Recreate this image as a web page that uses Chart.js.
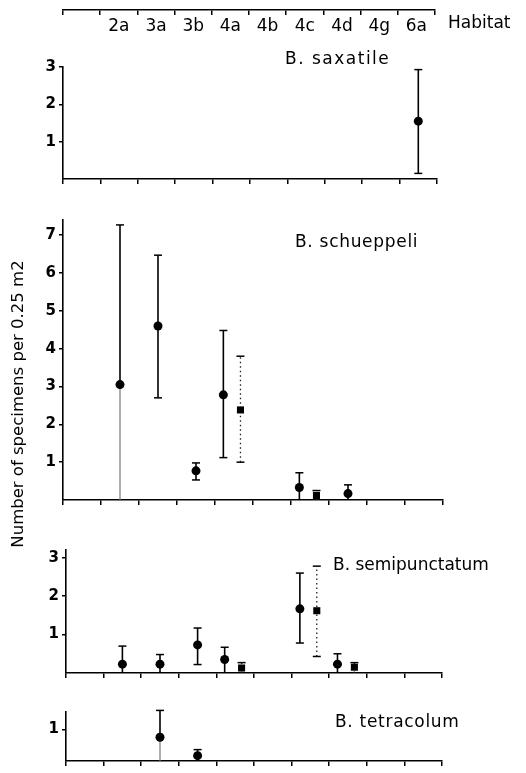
<!DOCTYPE html>
<html>
<head>
<meta charset="utf-8">
<script src="https://cdn.jsdelivr.net/npm/chart.js@4.4.1/dist/chart.umd.min.js"></script>
<style>
  body { margin: 0; background: #fff; }
  #wrap { position: relative; width: 526px; height: 773px; overflow: hidden; font-family: "DejaVu Sans", sans-serif; color: #000; }
  canvas { position: absolute; left: 0; }
  .t { position: absolute; font-size: 17px; line-height: 17px; letter-spacing: 0.7px; white-space: nowrap; }
  #ytitle { position: absolute; left: -132px; top: 394px; width: 300px; height: 20px; line-height: 20px;
            text-align: center; font-size: 16.5px; transform: rotate(-90deg); white-space: nowrap; }
</style>
</head>
<body>
<div id="wrap">
  <canvas id="axisTop" width="526" height="40" style="top:0px"></canvas>
  <div class="t" style="left:448px; top:14px; letter-spacing:0">Habitat</div>

  <canvas id="c1" width="526" height="140" style="top:55px"></canvas>
  <div class="t" style="left:285px; top:50px; letter-spacing:1.5px">B. saxatile</div>

  <canvas id="c2" width="526" height="312" style="top:205px"></canvas>
  <div class="t" style="left:295px; top:233px">B. schueppeli</div>

  <canvas id="c3" width="526" height="152" style="top:538px"></canvas>
  <div class="t" style="left:333px; top:556px; letter-spacing:0">B. semipunctatum</div>

  <canvas id="c4" width="526" height="73" style="top:700px"></canvas>
  <div class="t" style="left:335px; top:713px">B. tetracolum</div>

  <div id="ytitle">Number of specimens per 0.25 m2</div>
</div>
<script>
// 生息地のカテゴリ（先頭は空欄）
const habitats = ['', '2a', '3a', '3b', '4a', '4b', '4c', '4d', '4g', '6a'];

// B. saxatile  (丸 = 平均, low/high = 誤差範囲)
const saxMean = [null, null, null, null, null, null, null, null, null, 1.55];
const saxLow  = [null, null, null, null, null, null, null, null, null, 0.15];
const saxHigh = [null, null, null, null, null, null, null, null, null, 2.93];
const saxTicks = [1, 2, 3];

// B. schueppeli  (low が null → 0 まで灰色の線)
const schMean = [null, 3.05, 4.6, 0.77, 2.78, null, 0.33, 0.17, null, null];
const schLow  = [null, null, 2.7, 0.53, 1.12, null, 0, 0, null, null];
const schHigh = [null, 7.27, 6.47, 0.98, 4.48, null, 0.72, 0.4, null, null];
const schSqMean = [null, null, null, null, 2.38, null, 0.12, null, null, null];
const schSqLow  = [null, null, null, null, 1.0, null, 0, null, null, null];
const schSqHigh = [null, null, null, null, 3.8, null, 0.25, null, null, null];
const schTicks = [1, 2, 3, 4, 5, 6, 7];

// B. semipunctatum
const semMean = [null, 0.23, 0.23, 0.73, 0.35, null, 1.67, 0.23, null, null];
const semLow  = [null, 0, 0, 0.22, 0, null, 0.78, 0, null, null];
const semHigh = [null, 0.7, 0.48, 1.17, 0.67, null, 2.6, 0.5, null, null];
const semSqMean = [null, null, null, null, 0.13, null, 1.62, 0.15, null, null];
const semSqLow  = [null, null, null, null, 0, null, 0.43, 0, null, null];
const semSqHigh = [null, null, null, null, 0.27, null, 2.78, 0.27, null, null];
const semTicks = [1, 2, 3];

// B. tetracolum
const tetMean = [null, null, 0.75, 0.17, null, null, null, null, null, null];
const tetLow  = [null, null, null, 0, null, null, null, null, null, null];
const tetHigh = [null, null, 1.6, 0.36, null, null, null, null, null, null];
const tetTicks = [1];

const FONT = '"DejaVu Sans", sans-serif';
const none = habitats.map(() => null);

// 上の目盛り軸
new Chart(document.getElementById('axisTop'), {
  type: 'line',
  data: { labels: habitats, datasets: [] },
  options: {
    responsive: false, animation: false, events: [],
    layout: { padding: { top: 8, left: 63, right: 91, bottom: 0 } },
    plugins: { legend: { display: false }, tooltip: { enabled: false } },
    scales: {
      x: {
        type: 'category', offset: true,
        grid: { offset: true, drawOnChartArea: false, tickLength: 5, color: '#000', lineWidth: 1.5 },
        border: { color: '#000', width: 1.5 },
        ticks: { color: '#000', font: { family: FONT, size: 17 }, padding: 1, maxRotation: 0, autoSkip: false },
        afterFit: s => { s.height = 30; }
      },
      y: { display: false }
    }
  }
});

function panel(id, mean, low, high, sqMean, sqLow, sqHigh, yMax, yTicks, box) {
  const solid = [], grey = [], dotted = [], caps = [], circles = [], squares = [];
  habitats.forEach((h, i) => {
    if (mean[i] != null) {
      const x = i + 0.5 + (sqMean[i] != null ? -0.28 : 0);
      circles.push({ x, y: mean[i] });
      if (low[i] === null) {
        grey.push({ x, y: 0 }, { x, y: mean[i] }, { x, y: null });
        solid.push({ x, y: mean[i] }, { x, y: high[i] }, { x, y: null });
      } else {
        solid.push({ x, y: low[i] }, { x, y: high[i] }, { x, y: null });
        if (low[i] > 0) caps.push({ x, y: low[i] });
      }
      caps.push({ x, y: high[i] });
    }
    if (sqMean[i] != null) {
      const x = i + 0.5 + 0.17;
      squares.push({ x, y: sqMean[i] });
      dotted.push({ x, y: sqLow[i] }, { x, y: sqHigh[i] }, { x, y: null });
      caps.push({ x, y: sqHigh[i] });
      if (sqLow[i] > 0) caps.push({ x, y: sqLow[i] });
    }
  });

  new Chart(document.getElementById(id), {
    type: 'scatter',
    data: {
      datasets: [
        { data: circles, pointStyle: 'circle', pointRadius: 4.5, backgroundColor: '#000', borderColor: '#000', borderWidth: 0, clip: false },
        { data: squares, pointStyle: 'rect', pointRadius: 5, backgroundColor: '#000', borderColor: '#000', borderWidth: 0, clip: false },
        { data: caps, pointStyle: 'line', pointRadius: 4, borderColor: '#000', borderWidth: 1.5, clip: false },
        { type: 'line', data: solid, showLine: true, spanGaps: false, pointRadius: 0, borderColor: '#000', borderWidth: 1.6, clip: false },
        { type: 'line', data: dotted, showLine: true, spanGaps: false, pointRadius: 0, borderColor: '#222', borderWidth: 1.3, borderDash: [1.5, 3], clip: false },
        { type: 'line', data: grey, showLine: true, spanGaps: false, pointRadius: 0, borderColor: '#777', borderWidth: 1.2, clip: false }
      ]
    },
    options: {
      responsive: false, animation: false, events: [],
      layout: { padding: { top: box.top, left: 0, right: 526 - box.right, bottom: 0 } },
      plugins: { legend: { display: false }, tooltip: { enabled: false } },
      scales: {
        x: {
          type: 'linear', min: 0, max: 10,
          afterBuildTicks: s => { s.ticks = habitats.concat(['']).map((h, i) => ({ value: i })); },
          ticks: { display: false },
          grid: { drawOnChartArea: false, tickLength: 5, color: '#000', lineWidth: 1.5 },
          border: { color: '#000', width: 1.6 },
          afterFit: s => { s.height = box.bottom; }
        },
        y: {
          type: 'linear', min: 0, max: yMax,
          afterBuildTicks: s => { s.ticks = yTicks.map(v => ({ value: v })); },
          ticks: { color: '#000', font: { family: FONT, size: 15, weight: 'bold' }, padding: 3 },
          grid: { drawOnChartArea: false, tickLength: 4, color: '#000', lineWidth: 1.5 },
          border: { color: '#000', width: 1.6 },
          afterFit: s => { s.width = box.left; }
        }
      }
    }
  });
}

window.addEventListener('load', function() {
  panel('c1', saxMean, saxLow, saxHigh, none, none, none, 3, saxTicks, { top: 12, left: 63, right: 437, bottom: 16 });
  panel('c2', schMean, schLow, schHigh, schSqMean, schSqLow, schSqHigh, 7.4, schTicks, { top: 15, left: 63, right: 443, bottom: 17 });
  panel('c3', semMean, semLow, semHigh, semSqMean, semSqLow, semSqHigh, 3.2, semTicks, { top: 12, left: 66, right: 442, bottom: 17 });
  panel('c4', tetMean, tetLow, tetHigh, none, none, none, 1.55, tetTicks, { top: 10, left: 66, right: 442, bottom: 6 });
}, false);
</script>
</body>
</html>
